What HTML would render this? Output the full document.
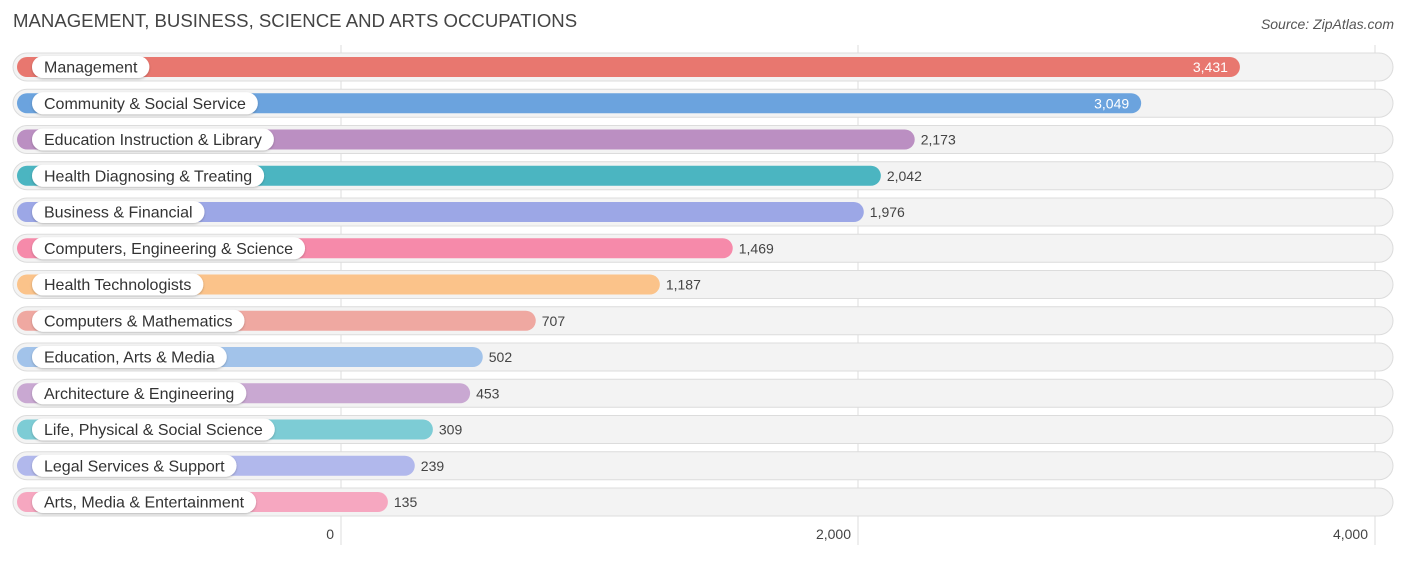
<!DOCTYPE html>
<html><head><meta charset="utf-8">
<style>
body{margin:0;background:#fff;font-family:"Liberation Sans",sans-serif;}
svg text{font-family:"Liberation Sans",sans-serif;}
</style></head>
<body>
<svg id="chart" width="1406" height="558" xmlns="http://www.w3.org/2000/svg">
<defs>
<filter id="sh" x="-5%" y="-30%" width="110%" height="160%"><feDropShadow dx="0" dy="1" stdDeviation="1" flood-color="#000" flood-opacity="0.25"/></filter>
</defs>
<text x="13" y="27" font-size="18.6" fill="#444">MANAGEMENT, BUSINESS, SCIENCE AND ARTS OCCUPATIONS</text>
<text x="1394" y="29" font-size="14" fill="#555" font-style="italic" text-anchor="end">Source: ZipAtlas.com</text>
<g id="grid"></g>
<g id="rows"></g>
<g id="ticks"></g>
</svg>
<script>
const categories=["Management","Community & Social Service","Education Instruction & Library","Health Diagnosing & Treating","Business & Financial","Computers, Engineering & Science","Health Technologists","Computers & Mathematics","Education, Arts & Media","Architecture & Engineering","Life, Physical & Social Science","Legal Services & Support","Arts, Media & Entertainment"];
const values=[3431,3049,2173,2042,1976,1469,1187,707,502,453,309,239,135];
const colors=["#e8776f","#6ba3de","#bb8fc2","#4bb5c1","#9ca7e6","#f68aaa","#fbc38a","#efa8a1","#a2c3ea","#c9a8d2","#7dccd5","#b1b8ec","#f6a7c0"];
const tickValues=[0,2000,4000];
const tickLabels=["0","2,000","4,000"];
const NS="http://www.w3.org/2000/svg";
const x=v=>341+v*0.2585;
const rowY=i=>67+i*36.25;
function mk(tag,attrs,parent){const e=document.createElementNS(NS,tag);for(const k in attrs)e.setAttribute(k,attrs[k]);parent.appendChild(e);return e;}
const grid=document.getElementById('grid'),rows=document.getElementById('rows'),ticks=document.getElementById('ticks');
tickValues.forEach((t,i)=>{
  const l=mk('line',{x1:x(t),x2:x(t),y1:45,y2:545,stroke:'#ddd','stroke-width':1},grid);
  
  
  const tx=mk('text',{x:x(t)-7,y:539,'font-size':14,fill:'#444','text-anchor':'end'},ticks);
  tx.textContent=tickLabels[i];
  
  
});
categories.forEach((c,i)=>{
  const cy=rowY(i);
  const g=mk('g',{},rows);
  
  
  const bg=mk('rect',{x:13,y:cy-14,width:1380,height:28,rx:14,fill:'#f3f3f3',stroke:'#dcdcdc','stroke-width':1},g);
  
  
  const end=x(values[i])+12;
  const bar=mk('rect',{x:17,y:cy-10,width:end-17,height:20,rx:10,fill:colors[i]},g);
  
  
  const pill=mk('rect',{x:32,y:cy-11,width:100,height:22,rx:11,fill:'#fff',filter:'url(#sh)'},g);
  
  
  const t=mk('text',{x:44,y:cy+5.5,'font-size':16,fill:'#333'},g);
  t.textContent=c;
  
  
  pill.setAttribute('width',t.getComputedTextLength()+24);
  const inside=values[i]>2500;
  const vt=mk('text',{x:inside?end-12:end+6,y:cy+5,'font-size':14,fill:inside?'#fff':'#444','text-anchor':inside?'end':'start'},g);
  vt.textContent=values[i].toLocaleString('en-US');
  
  
});
</script>
</body></html>
